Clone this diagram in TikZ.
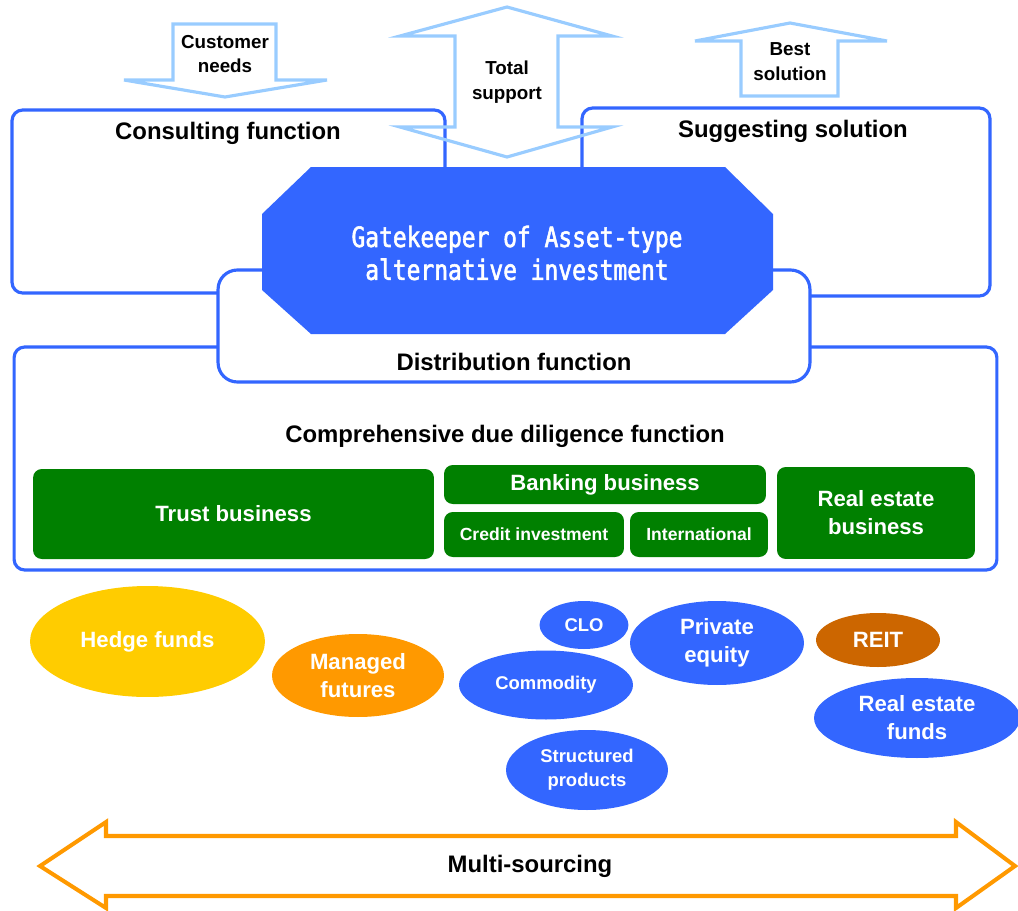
\documentclass[tikz,border=0pt]{standalone}
\usepackage{fontspec}
\setmainfont{Liberation Sans}
\newfontfamily\gothicfont{DejaVu Sans Mono}[FakeStretch=0.82, FakeBold=2]
\usepackage{tikz}
\usetikzlibrary{shapes.geometric}

\definecolor{lineblue}{HTML}{3366FF}
\definecolor{paleblue}{HTML}{99CCFF}
\definecolor{bizgreen}{HTML}{008000}
\definecolor{hedgeyellow}{HTML}{FFCC00}
\definecolor{mforange}{HTML}{FF9900}
\definecolor{reitbrown}{HTML}{CC6600}

\begin{document}
\begin{tikzpicture}[
  x=0.02cm, y=-0.02cm,
  funcbox/.style={draw=lineblue, line width=1.8pt, fill=white, rounded corners=6pt},
  bizbox/.style={fill=bizgreen, rounded corners=5pt, text=white, align=center, inner sep=0pt},
  bigbiz/.style={bizbox, font=\fontsize{12.6}{15.9}\selectfont\bfseries},
  smallbiz/.style={bizbox, font=\fontsize{10}{12}\selectfont\bfseries},
  asset/.style={ellipse, fill=lineblue, text=white, align=center, inner sep=0pt,
    font=\fontsize{12.6}{15.9}\selectfont\bfseries},
  smallasset/.style={asset, font=\fontsize{10.5}{13.6}\selectfont\bfseries},
  functitle/.style={font=\fontsize{13.6}{16}\selectfont\bfseries},
  flowlabel/.style={align=center, font=\fontsize{10.7}{14.2}\selectfont\bfseries},
  blockarrow/.style={draw=paleblue, line width=1.8pt, line join=miter}
]
\useasboundingbox (0,0) rectangle (1018,910);

% function boxes
\node[funcbox, minimum width=19.66cm, minimum height=4.46cm] (diligence) at (505.5,458.5) {};
\node[funcbox, minimum width=8.66cm, minimum height=3.66cm] (consult) at (228.5,201.5) {};
\node[funcbox, minimum width=8.16cm, minimum height=3.76cm] (suggest) at (786,202) {};
\node[funcbox, rounded corners=11pt, minimum width=11.84cm, minimum height=2.24cm] (distrib) at (514,326) {};

% gatekeeper
\fill[lineblue] (311,167) -- (725,167) -- (773,214) -- (773,290) -- (725,334)
  -- (311,334) -- (262,290) -- (262,214) -- cycle;
\node[text=white, align=center, font=\gothicfont\fontsize{15.9}{18.7}\selectfont] (gate) at (517,253)
  {Gatekeeper of Asset-type\\alternative investment};

\node[functitle] (consulttitle) at (228,133) {Consulting function};
\node[functitle] (suggesttitle) at (793,131) {Suggesting solution};
\node[functitle] (distribtitle) at (514,362) {Distribution function};
\node[functitle] (diligencetitle) at (505,436) {Comprehensive due diligence function};

% businesses
\node[bigbiz, minimum width=8.02cm, minimum height=1.8cm] (trust) at (233.5,514) {Trust business};
\node[bigbiz, minimum width=6.44cm, minimum height=0.78cm] (banking) at (605,484.5) {Banking business};
\node[smallbiz, minimum width=3.6cm, minimum height=0.9cm] (credit) at (534,534.5) {Credit investment};
\node[smallbiz, minimum width=2.76cm, minimum height=0.9cm] (intl) at (699,534.5) {International};
\node[bigbiz, minimum width=3.96cm, minimum height=1.84cm] (realestate) at (876,513) {Real estate\\business};

% asset types
\node[asset, fill=hedgeyellow, minimum width=4.7cm, minimum height=2.22cm] (hedge) at (147.5,641.5) {Hedge funds};
\node[asset, fill=mforange, minimum width=3.44cm, minimum height=1.66cm] (managed) at (358,675.5) {Managed\\futures};
\node[smallasset, minimum width=1.78cm, minimum height=0.96cm] (clo) at (584,625) {CLO};
\node[asset, minimum width=3.48cm, minimum height=1.68cm] (private) at (717,643) {Private\\equity};
\node[smallasset, minimum width=3.48cm, minimum height=1.38cm] (commodity) at (546,685) {Commodity};
\node[asset, fill=reitbrown, minimum width=2.48cm, minimum height=1.08cm] (reit) at (878,640) {REIT};
\node[asset, minimum width=4.12cm, minimum height=1.6cm] (refunds) at (917,718) {Real estate\\funds};
\node[smallasset, minimum width=3.24cm, minimum height=1.6cm] (structured) at (587,770) {Structured\\products};

% flows
\draw[blockarrow] (173,24) -- (276,24) -- (276,80) -- (327,80) -- (225,97)
  -- (124,80) -- (173,80) -- cycle;
\node[flowlabel] (needs) at (225,54) {Customer\\needs};
\draw[blockarrow] (507,7) -- (612,36) -- (558,36) -- (558,127) -- (612,127) -- (507,157)
  -- (400,127) -- (455,127) -- (455,36) -- (400,36) -- cycle;
\node[flowlabel] (support) at (507,82) {Total\\support};
\draw[blockarrow] (790,23) -- (887,41) -- (838,41) -- (838,96) -- (741,96) -- (741,41)
  -- (695,41) -- cycle;
\node[flowlabel] (best) at (790,62) {Best\\solution};

\draw[draw=mforange, line width=2.3pt, line join=miter] (40,866) -- (106,822) -- (106,836)
  -- (956,836) -- (956,822) -- (1015,866) -- (956,908) -- (956,896) -- (106,896)
  -- (106,908) -- cycle;
\node[functitle] (sourcing) at (530,866) {Multi-sourcing};
\end{tikzpicture}
\end{document}
